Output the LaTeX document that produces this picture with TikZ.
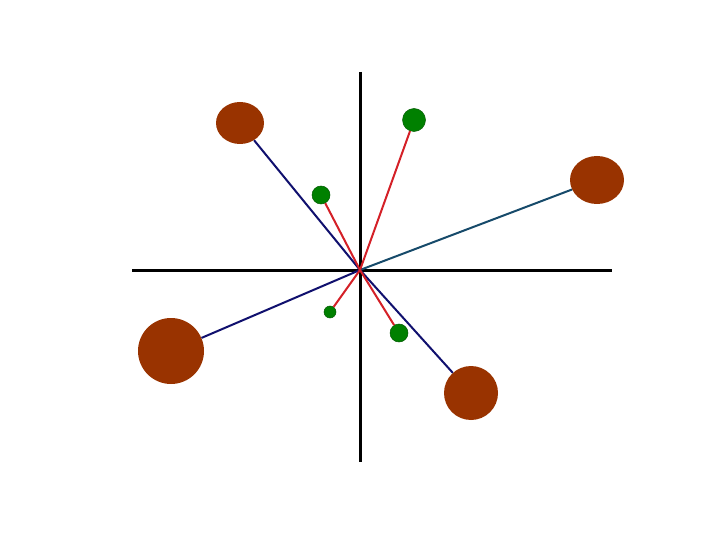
\documentclass[tikz,border=0pt]{standalone}
\usetikzlibrary{shapes.geometric}
\definecolor{brownball}{HTML}{993300}
\definecolor{greenball}{HTML}{008000}
\definecolor{navyline}{HTML}{10106E}
\definecolor{tealline}{HTML}{164A6A}
\definecolor{redline}{HTML}{D42027}
\tikzset{
  bigball/.style={ellipse, fill=brownball, inner sep=0pt},
  smallball/.style={circle, fill=greenball, draw=greenball!70!black, line width=0.5pt, inner sep=0pt},
  axisline/.style={line width=3pt, black},
  navy/.style={line width=2pt, navyline},
  teal/.style={line width=2pt, tealline},
  redl/.style={line width=2pt, redline}
}
\begin{document}
\begin{tikzpicture}[x=1pt,y=-1pt]
\useasboundingbox (0,0) rectangle (720,540);
\coordinate (o) at (360,270);
\coordinate (xl) at (132,270);
\coordinate (xr) at (612,270);
\coordinate (yt) at (360,72);
\coordinate (yb) at (360,462);
\draw[axisline] (xl) -- (xr);
\draw[axisline] (yt) -- (yb);
\node[bigball, minimum width=48pt, minimum height=42pt] (b1) at (240,123) {};
\node[bigball, minimum width=54pt, minimum height=48pt] (b2) at (597,180) {};
\node[bigball, minimum width=66pt, minimum height=66pt] (b3) at (171,351) {};
\node[bigball, minimum width=54pt, minimum height=54pt] (b4) at (471,393) {};
\node[smallball, minimum size=23pt] (g1) at (414,120) {};
\node[smallball, minimum size=18pt] (g2) at (321,195) {};
\node[smallball, minimum size=12pt] (g3) at (330,312) {};
\node[smallball, minimum size=18pt] (g4) at (399,333) {};
\draw[navy] (o) -- (b1);
\draw[teal] (o) -- (b2);
\draw[navy] (o) -- (b3);
\draw[navy] (o) -- (b4);
\draw[redl] (o) -- (g1);
\draw[redl] (o) -- (g2);
\draw[redl] (o) -- (g3);
\draw[redl] (o) -- (g4);
\end{tikzpicture}
\end{document}
